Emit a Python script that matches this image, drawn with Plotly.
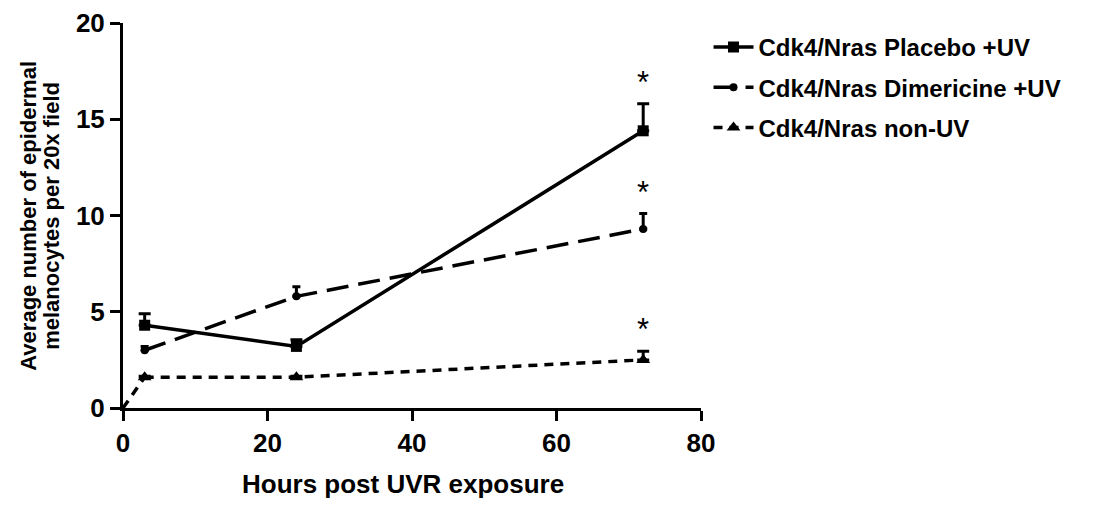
import plotly.graph_objects as go

hours = [3, 24, 72]
placebo = [4.3, 3.2, 14.4]
placebo_err = [0.6, 0.35, 1.4]
dimericine = [3.0, 5.8, 9.3]
dimericine_err = [0.2, 0.5, 0.8]
nonuv_hours = [0, 3, 24, 72]
nonuv = [0.0, 1.6, 1.6, 2.5]
nonuv_err = [0.05, 0.05, 0.45]
star_x = [72, 72, 72]
star_y = [15.9, 10.2, 3.05]
x_title = "Hours post UVR exposure"
y_title_lines = ["Average number of epidermal", "melanocytes per 20x field"]

FONT = "Liberation Sans, Arial, sans-serif"

fig = go.Figure()
fig.add_trace(go.Scatter(
    x=hours, y=placebo, name="Cdk4/Nras Placebo +UV", mode="lines+markers",
    legendgroup="a",
    line=dict(color="black", width=3.5, dash="solid"),
    marker=dict(symbol="square", size=11, color="black"),
    error_y=dict(type="data", array=placebo_err, arrayminus=[0, 0, 0], symmetric=False,
                 color="black", thickness=3, width=6),
))
fig.add_trace(go.Scatter(
    x=hours, y=dimericine, name="Cdk4/Nras Dimericine +UV", mode="lines+markers",
    legendgroup="b",
    line=dict(color="black", width=3.5, dash="22px,10px"),
    marker=dict(symbol="circle", size=8, color="black"),
    error_y=dict(type="data", array=dimericine_err, arrayminus=[0, 0, 0], symmetric=False,
                 color="black", thickness=3, width=4),
))
# lead-in segment of the non-UV series from the origin
fig.add_trace(go.Scatter(
    x=nonuv_hours[:2], y=nonuv[:2], mode="lines", showlegend=False, hoverinfo="skip",
    line=dict(color="black", width=3.5, dash="9px,7px"),
))
fig.add_trace(go.Scatter(
    x=nonuv_hours[1:], y=nonuv[1:], name="Cdk4/Nras non-UV", mode="lines+markers",
    legendgroup="c",
    line=dict(color="black", width=3.5, dash="9px,7px"),
    marker=dict(symbol="triangle-up", size=12, color="black"),
    error_y=dict(type="data", array=nonuv_err, arrayminus=[0, 0, 0], symmetric=False,
                 color="black", thickness=3, width=6),
))

for sx, sy in zip(star_x, star_y):
    fig.add_annotation(x=sx, y=sy, text="*", showarrow=False, yanchor="bottom",
                       font=dict(family=FONT, size=31, color="black"))

# axis titles
fig.add_annotation(xref="paper", yref="paper", x=0.484, y=-0.197, text="<b>" + x_title + "</b>",
                   showarrow=False, xanchor="center", yanchor="middle",
                   font=dict(family=FONT, size=26, color="black"))
for xp, line in zip([-0.164, -0.124], y_title_lines):
    fig.add_annotation(xref="paper", yref="paper", x=xp, y=0.5, text="<b>" + line + "</b>",
                       showarrow=False, textangle=-90, xanchor="center", yanchor="middle",
                       font=dict(family=FONT, size=22, color="black"))

fig.update_layout(
    width=1097, height=507,
    paper_bgcolor="white", plot_bgcolor="white",
    margin=dict(l=123, r=396, t=23, b=99, autoexpand=False),
    font=dict(family=FONT, color="black"),
    showlegend=True,
    legend=dict(x=1.013, y=0.995, xanchor="left", yanchor="top",
                font=dict(family=FONT, size=24, color="black", weight="bold"),
                tracegroupgap=6, itemwidth=40, bgcolor="rgba(0,0,0,0)"),
)
fig.update_xaxes(
    range=[0, 80], tickvals=[0, 20, 40, 60, 80], showgrid=False, zeroline=False,
    showline=True, linecolor="black", linewidth=3, ticks="outside", ticklen=10,
    tickwidth=3, tickcolor="black", automargin=False,
    tickfont=dict(family=FONT, size=26, color="black", weight="bold"),
)
fig.update_yaxes(
    range=[0, 20], tickvals=[0, 5, 10, 15, 20], showgrid=False, zeroline=False,
    showline=True, linecolor="black", linewidth=3, ticks="outside", ticklen=10,
    tickwidth=3, tickcolor="black", automargin=False,
    tickfont=dict(family=FONT, size=26, color="black", weight="bold"),
)

fig.write_html("out.html", config={"displayModeBar": False},
               post_script="document.body.style.margin='0';document.body.style.overflow='hidden';")
